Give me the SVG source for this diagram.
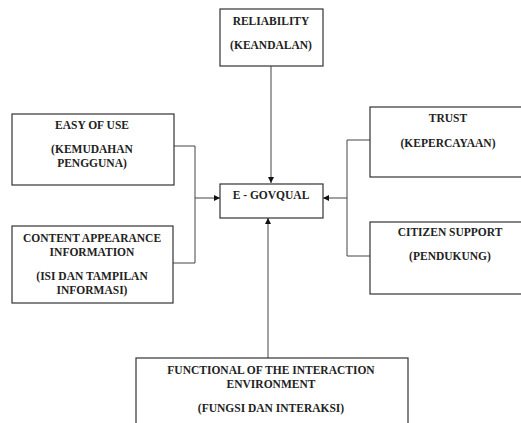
<svg xmlns="http://www.w3.org/2000/svg" width="521" height="423" viewBox="0 0 521 423">
<defs>
<marker id="ah" viewBox="0 0 10 10" refX="10" refY="5" markerWidth="6" markerHeight="6" markerUnits="userSpaceOnUse" orient="auto">
<path d="M0,0 L10,5 L0,10 z" fill="#111"/>
</marker>
</defs>
<style>
.box{fill:#fff;stroke:#333;stroke-width:1.2}
.t{font-family:"Liberation Serif","Times New Roman",serif;font-weight:bold;font-size:11.5px;fill:#222;text-anchor:middle}
.c{fill:none;stroke:#444;stroke-width:1}
</style>
<rect width="521" height="423" fill="#fff"/>
<g id="connectors">
<path class="c" d="M271,66 V183" marker-end="url(#ah)"/>
<path class="c" d="M174,146 H195 V263 H173"/>
<path class="c" d="M195,198 H220" marker-end="url(#ah)"/>
<path class="c" d="M370,140 H347 V256 H370"/>
<path class="c" d="M347,198 H323" marker-end="url(#ah)"/>
<path class="c" d="M268,358 V218" marker-end="url(#ah)"/>
</g>
<g id="reliability">
<rect class="box" x="220" y="9" width="103" height="57"/>
<text class="t" x="271" y="24.5">RELIABILITY</text>
<text class="t" x="271" y="49">(KEANDALAN)</text>
</g>
<g id="egovqual">
<rect class="box" x="220" y="184" width="103" height="34"/>
<text class="t" x="271" y="199">E - GOVQUAL</text>
</g>
<g id="easy">
<rect class="box" x="12" y="114" width="162" height="71"/>
<text class="t" x="92" y="129">EASY OF USE</text>
<text class="t" x="92" y="153">(KEMUDAHAN</text>
<text class="t" x="92" y="167">PENGGUNA)</text>
</g>
<g id="content">
<rect class="box" x="12" y="226" width="161" height="77"/>
<text class="t" x="92" y="242">CONTENT APPEARANCE</text>
<text class="t" x="92" y="256">INFORMATION</text>
<text class="t" x="92" y="280">(ISI DAN TAMPILAN</text>
<text class="t" x="92" y="294">INFORMASI)</text>
</g>
<g id="trust">
<rect class="box" x="370" y="107" width="160" height="70"/>
<text class="t" x="448" y="122">TRUST</text>
<text class="t" x="448" y="147">(KEPERCAYAAN)</text>
</g>
<g id="citizen">
<rect class="box" x="370" y="222" width="160" height="72"/>
<text class="t" x="450" y="236">CITIZEN SUPPORT</text>
<text class="t" x="450" y="260">(PENDUKUNG)</text>
</g>
<g id="functional">
<rect class="box" x="136" y="358" width="272" height="80"/>
<text class="t" x="271" y="374">FUNCTIONAL OF THE INTERACTION</text>
<text class="t" x="271" y="388">ENVIRONMENT</text>
<text class="t" x="271" y="412">(FUNGSI DAN INTERAKSI)</text>
</g>
</svg>
